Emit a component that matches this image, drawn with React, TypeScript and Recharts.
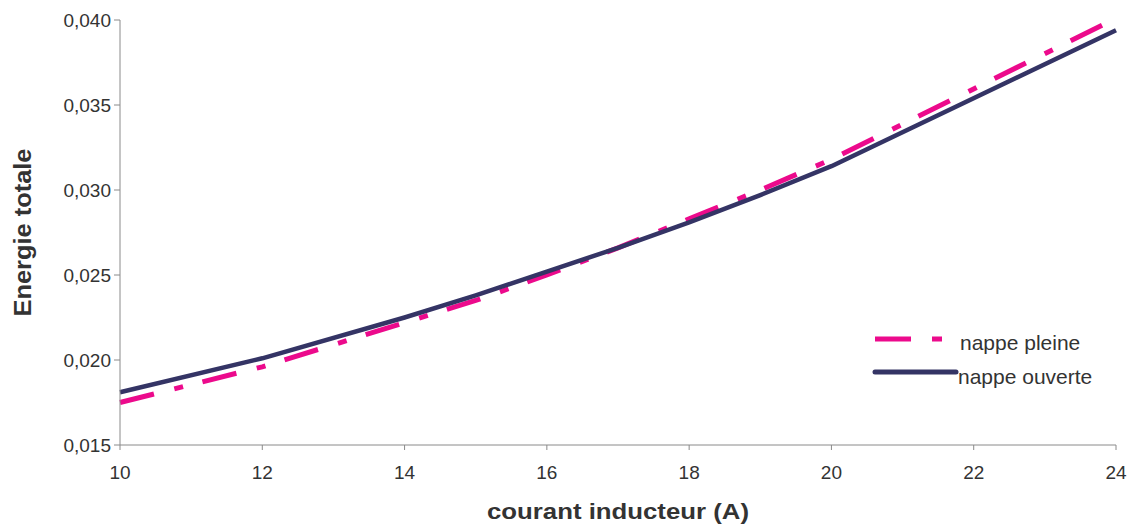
import { LineChart, Line, XAxis, YAxis, Label } from 'recharts';

// courant inducteur (A)
const courant = [10, 12, 14, 15, 16, 17, 18, 19, 20, 24];
// energie totale, nappe pleine / nappe ouverte
const nappePleine = [0.0175, 0.0196, 0.0222, 0.0235, 0.025, 0.0266, 0.0283, 0.03, 0.0318, 0.0401];
const nappeOuverte = [0.0181, 0.0201, 0.0225, 0.0238, 0.0252, 0.0266, 0.0281, 0.0297, 0.0314, 0.0394];

const xTicks = [10, 12, 14, 16, 18, 20, 22, 24];
const yTicks = [0.015, 0.02, 0.025, 0.03, 0.035, 0.04];

const PINK = '#EC0A8C';
const NAVY = '#343465';
const AXIS = '#8a8a8a';
const TEXT = '#333333';
const FONT = '"Liberation Sans", Arial, sans-serif';

const data = courant.map((c, i) => ({
  courant: c,
  pleine: nappePleine[i],
  ouverte: nappeOuverte[i],
}));

// legend drawn as an overlay so it doesn't eat plot space
function LegendBox() {
  return (
    <svg width={260} height={60} style={{ position: 'absolute', left: 868, top: 328, overflow: 'visible' }}>
      <line x1={7} y1={11} x2={74} y2={11} stroke={PINK} strokeWidth={5} strokeDasharray="36 21 10 30" />
      <text x={92} y={14} dominantBaseline="central" fontSize={21} fill={TEXT} fontFamily={FONT}>
        nappe pleine
      </text>
      <line x1={7} y1={44} x2={88} y2={44} stroke={NAVY} strokeWidth={5} strokeLinecap="round" />
      <text x={90} y={48} dominantBaseline="central" fontSize={21} fill={TEXT} fontFamily={FONT}>
        nappe ouverte
      </text>
    </svg>
  );
}

export default function App() {
  return (
    <div style={{ position: 'absolute', left: 0, top: 0, width: 1129, height: 528, background: '#fff' }}>
      <LineChart
        width={1129}
        height={528}
        data={data}
        margin={{ top: 20, right: 13, bottom: 0, left: 0 }}
        style={{ fontFamily: FONT }}
      >
        <XAxis
          dataKey="courant"
          type="number"
          domain={[10, 24]}
          ticks={xTicks}
          height={83}
          tickSize={5}
          tickMargin={16}
          stroke={AXIS}
          tick={{ fill: TEXT, fontSize: 19 }}
        >
          <Label
            content={({ viewBox }: any) => (
              <text
                x={viewBox.x + viewBox.width / 2}
                y={viewBox.y + 66}
                textAnchor="middle"
                dominantBaseline="central"
                fontSize={22}
                fontWeight="bold"
                fill={TEXT}
                textLength={262}
                lengthAdjust="spacingAndGlyphs"
              >
                courant inducteur (A)
              </text>
            )}
          />
        </XAxis>
        <YAxis
          type="number"
          domain={[0.015, 0.04]}
          ticks={yTicks}
          allowDataOverflow
          width={120}
          tickSize={6}
          tickMargin={3}
          stroke={AXIS}
          tick={{ fill: TEXT, fontSize: 19 }}
          tickFormatter={(v: number) => v.toFixed(3).replace('.', ',')}
        >
          <Label
            content={({ viewBox }: any) => (
              <text
                x={22}
                y={viewBox.y + viewBox.height / 2}
                transform={`rotate(-90, 22, ${viewBox.y + viewBox.height / 2})`}
                textAnchor="middle"
                dominantBaseline="central"
                fontSize={24}
                fontWeight="bold"
                fill={TEXT}
                textLength={168}
                lengthAdjust="spacingAndGlyphs"
              >
                Energie totale
              </text>
            )}
          />
        </YAxis>
        <Line
          type="linear"
          dataKey="pleine"
          name="nappe pleine"
          stroke={PINK}
          strokeWidth={5}
          strokeDasharray="35 21 9 20"
          dot={false}
          isAnimationActive={false}
        />
        <Line
          type="linear"
          dataKey="ouverte"
          name="nappe ouverte"
          stroke={NAVY}
          strokeWidth={4.5}
          strokeLinejoin="round"
          dot={false}
          isAnimationActive={false}
        />
      </LineChart>
      <LegendBox />
    </div>
  );
}
